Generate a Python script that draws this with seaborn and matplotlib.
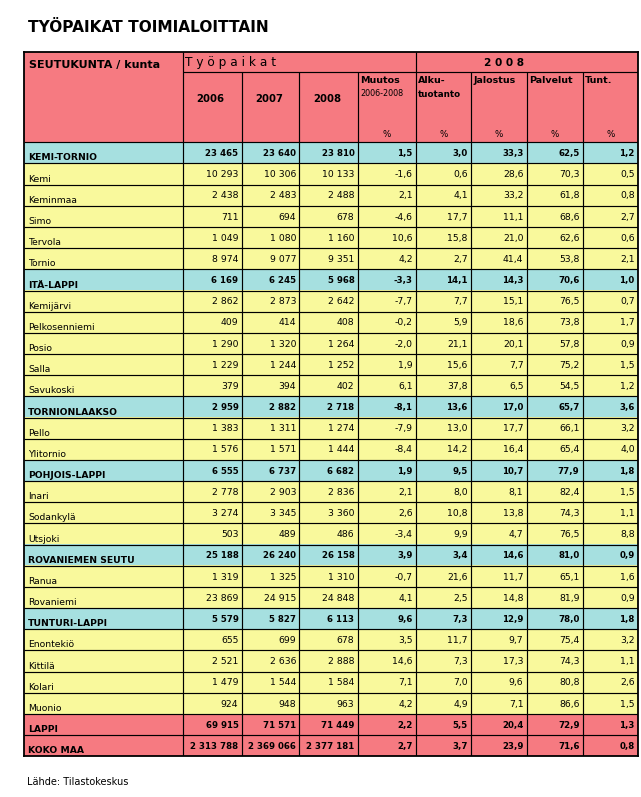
import numpy as np
import matplotlib
matplotlib.use("Agg")
import matplotlib.pyplot as plt
from matplotlib.colors import ListedColormap
import seaborn as sns

# ---------------- data ----------------
title = "TYÖPAIKAT TOIMIALOITTAIN"
source = "Lähde: Tilastokeskus"
names = ["KEMI-TORNIO", "Kemi", "Keminmaa", "Simo", "Tervola", "Tornio",
         "ITÄ-LAPPI", "Kemijärvi", "Pelkosenniemi", "Posio", "Salla", "Savukoski",
         "TORNIONLAAKSO", "Pello", "Ylitornio",
         "POHJOIS-LAPPI", "Inari", "Sodankylä", "Utsjoki",
         "ROVANIEMEN SEUTU", "Ranua", "Rovaniemi",
         "TUNTURI-LAPPI", "Enontekiö", "Kittilä", "Kolari", "Muonio",
         "LAPPI", "KOKO MAA"]
kinds = ["R", "M", "M", "M", "M", "M",
         "R", "M", "M", "M", "M", "M",
         "R", "M", "M",
         "R", "M", "M", "M",
         "R", "M", "M",
         "R", "M", "M", "M", "M",
         "T", "T"]
jobs_2006 = [23465, 10293, 2438, 711, 1049, 8974, 6169, 2862, 409, 1290, 1229, 379,
             2959, 1383, 1576, 6555, 2778, 3274, 503, 25188, 1319, 23869,
             5579, 655, 2521, 1479, 924, 69915, 2313788]
jobs_2007 = [23640, 10306, 2483, 694, 1080, 9077, 6245, 2873, 414, 1320, 1244, 394,
             2882, 1311, 1571, 6737, 2903, 3345, 489, 26240, 1325, 24915,
             5827, 699, 2636, 1544, 948, 71571, 2369066]
jobs_2008 = [23810, 10133, 2488, 678, 1160, 9351, 5968, 2642, 408, 1264, 1252, 402,
             2718, 1274, 1444, 6682, 2836, 3360, 486, 26158, 1310, 24848,
             6113, 678, 2888, 1584, 963, 71449, 2377181]
change_pct = [1.5, -1.6, 2.1, -4.6, 10.6, 4.2, -3.3, -7.7, -0.2, -2.0, 1.9, 6.1,
              -8.1, -7.9, -8.4, 1.9, 2.1, 2.6, -3.4, 3.9, -0.7, 4.1,
              9.6, 3.5, 14.6, 7.1, 4.2, 2.2, 2.7]
primary_pct = [3.0, 0.6, 4.1, 17.7, 15.8, 2.7, 14.1, 7.7, 5.9, 21.1, 15.6, 37.8,
               13.6, 13.0, 14.2, 9.5, 8.0, 10.8, 9.9, 3.4, 21.6, 2.5,
               7.3, 11.7, 7.3, 7.0, 4.9, 5.5, 3.7]
secondary_pct = [33.3, 28.6, 33.2, 11.1, 21.0, 41.4, 14.3, 15.1, 18.6, 20.1, 7.7, 6.5,
                 17.0, 17.7, 16.4, 10.7, 8.1, 13.8, 4.7, 14.6, 11.7, 14.8,
                 12.9, 9.7, 17.3, 9.6, 7.1, 20.4, 23.9]
services_pct = [62.5, 70.3, 61.8, 68.6, 62.6, 53.8, 70.6, 76.5, 73.8, 57.8, 75.2, 54.5,
                65.7, 66.1, 65.4, 77.9, 82.4, 74.3, 76.5, 81.0, 65.1, 81.9,
                78.0, 75.4, 74.3, 80.8, 86.6, 72.9, 71.6]
unknown_pct = [1.2, 0.5, 0.8, 2.7, 0.6, 2.1, 1.0, 0.7, 1.7, 0.9, 1.5, 1.2,
               3.6, 3.2, 4.0, 1.8, 1.5, 1.1, 8.8, 0.9, 1.6, 0.9,
               1.8, 3.2, 1.1, 2.6, 1.5, 1.3, 0.8]

head_first = "SEUTUKUNTA / kunta"
head_group1 = "T y ö p a i k a t"
head_group2 = "2 0 0 8"
year_labels = ["2006", "2007", "2008"]
share_labels = [("Muutos", "2006-2008"), ("Alku-", "tuotanto"), ("Jalostus", ""),
                ("Palvelut", ""), ("Tunt.", "")]

# ---------------- style ----------------
plt.rcParams["font.family"] = ["DejaVu Sans"]
PINK, CYAN, YELLOW = "#F67A81", "#A6E0E0", "#F9F99C"
kind_code = {"T": 0, "R": 1, "M": 2}

W, H = 614.0, 704.0          # table size in pixels
HDR1, HDR = 19.4, 90.0       # header row 1 bottom, header bottom
NROW = len(names)
ROWH = (H - HDR) / NROW
col_edges = np.array([0, 158.5, 217.7, 275.3, 333.7, 392, 447, 502.7, 558.7, 614])

fig = plt.figure(figsize=(6.41, 7.97), dpi=100)
ax = fig.add_axes([24 / 641, 1 - 756.3 / 797, W / 641, H / 797])

# background colours through a heatmap (pixel grid)
ypix = np.arange(int(H)) + 0.5
row_idx = np.clip(((ypix - HDR) // ROWH).astype(int), 0, NROW - 1)
codes = np.array([kind_code[k] for k in kinds])
col_codes = np.where(ypix < HDR, 0, codes[row_idx])
mat = np.repeat(col_codes[:, None], int(W), axis=1)
sns.heatmap(mat, cmap=ListedColormap([PINK, CYAN, YELLOW]), vmin=-0.5, vmax=2.5,
            cbar=False, xticklabels=False, yticklabels=False, ax=ax)
ax.set_xlim(0, W)
ax.set_ylim(H, 0)

# grid lines
lw = 0.85
for i in range(1, NROW):
    ax.hlines(HDR + i * ROWH, 0, W, color="black", lw=lw)
ax.hlines(HDR, 0, W, color="black", lw=lw)
ax.hlines(HDR1, col_edges[1], W, color="black", lw=lw)
for j in range(1, len(col_edges) - 1):
    top = 0 if j in (1, 5) else HDR1
    ax.vlines(col_edges[j], top, H, color="black", lw=lw)
for s in ax.spines.values():
    s.set_visible(True)
    s.set_linewidth(1.3)
    s.set_color("black")

# header texts
ax.text(5.3, 15.4, head_first, fontsize=8.0, fontweight="bold", va="baseline")
ax.text(col_edges[1] + 2.2, 14.0, head_group1, fontsize=8.7, va="baseline")
ax.text(480, 14.0, head_group2, fontsize=7.6, fontweight="bold", va="baseline", ha="center")
for k, lab in enumerate(year_labels):
    cx = (col_edges[1 + k] + col_edges[2 + k]) / 2 - 1.5
    ax.text(cx, 49.4, lab, fontsize=7.3, fontweight="bold", va="baseline", ha="center")
for k, (l1, l2) in enumerate(share_labels):
    x0 = col_edges[4 + k]
    ax.text(x0 + 2.3, 30.4, l1, fontsize=6.8, fontweight="bold", va="baseline")
    if l2:
        if k == 0:
            ax.text(x0 + 2.3, 43.6, l2, fontsize=5.8, va="baseline")
        else:
            ax.text(x0 + 2.3, 44.6, l2, fontsize=6.3, fontweight="bold", va="baseline")
    cx = (col_edges[4 + k] + col_edges[5 + k]) / 2
    ax.text(cx, 84.7, "%", fontsize=6.3, va="baseline", ha="center")


def fmt_int(v):
    return f"{v:,}".replace(",", " ")


def fmt_pct(v):
    return f"{v:.1f}".replace(".", ",")


columns = [(jobs_2006, fmt_int), (jobs_2007, fmt_int), (jobs_2008, fmt_int),
           (change_pct, fmt_pct), (primary_pct, fmt_pct), (secondary_pct, fmt_pct),
           (services_pct, fmt_pct), (unknown_pct, fmt_pct)]

for i, name in enumerate(names):
    bottom = HDR + (i + 1) * ROWH
    bold = kinds[i] != "M"
    ax.text(4.3, bottom - 3.0, name, fontsize=6.7,
            fontweight="bold" if bold else "normal", va="baseline")
    for c, (vals, f) in enumerate(columns):
        ax.text(col_edges[c + 2] - 3.3, bottom - 7.4, f(vals[i]),
                fontsize=6.2 if bold else 6.7,
                fontweight="bold" if bold else "normal",
                va="baseline", ha="right")

fig.text(28 / 641, 1 - 31.7 / 797, title, fontsize=11.1, fontweight="bold", va="baseline")
fig.text(27.3 / 641, 1 - 785.3 / 797, source, fontsize=7.0, va="baseline")

fig.savefig("out.png", dpi=100)
